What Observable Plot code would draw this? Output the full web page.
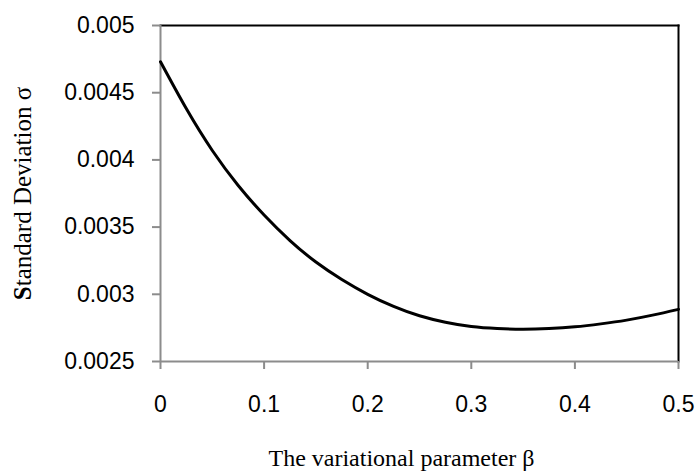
<!DOCTYPE html>
<html>
<head>
<meta charset="utf-8">
<script src="https://cdn.jsdelivr.net/npm/d3@7"></script>
<script src="https://cdn.jsdelivr.net/npm/@observablehq/plot@0.6"></script>
<style>
  html, body { margin: 0; padding: 0; background: #fff; }
  #chart svg { display: block; }
</style>
</head>
<body>
<div id="chart"></div>
<script>
// Variational parameter β
const beta = [0, 0.025, 0.05, 0.075, 0.1, 0.125, 0.15, 0.175, 0.2, 0.225, 0.25,
              0.275, 0.3, 0.325, 0.35, 0.375, 0.4, 0.425, 0.45, 0.475, 0.5];
// Standard deviation σ
const sigma = [0.00473, 0.00438, 0.00407, 0.00381, 0.00359, 0.00340, 0.00324, 0.00311,
               0.00300, 0.00291, 0.00284, 0.002792, 0.00276, 0.002745, 0.00274, 0.002745,
               0.002758, 0.00278, 0.002808, 0.002845, 0.002888];
const xTicks = [0, 0.1, 0.2, 0.3, 0.4, 0.5];
const yTicks = [0.0025, 0.003, 0.0035, 0.004, 0.0045, 0.005];
const xTitle = "The variational parameter β";
const yTitle = "Standard Deviation σ";

const data = beta.map((b, i) => ({beta: b, sigma: sigma[i]}));
const fmt = d => String(+d.toFixed(4));
const gray = "#8c8c8c";

const chart = Plot.plot({
  width: 697,
  height: 474,
  marginLeft: 160,
  marginRight: 19,
  marginTop: 25,
  marginBottom: 113,
  style: {fontFamily: "'Liberation Sans', Arial, sans-serif", color: "#000", background: "#fff"},
  x: {domain: [0, 0.5]},
  y: {domain: [0.0025, 0.005]},
  marks: [
    Plot.frame({anchor: "top", stroke: "#000", strokeWidth: 2}),
    Plot.frame({anchor: "right", stroke: "#000", strokeWidth: 2}),
    Plot.axisY({ticks: yTicks, tickFormat: fmt, tickSize: 8, tickPadding: 18, fontSize: 23,
      stroke: gray, strokeWidth: 2, strokeOpacity: 1, fill: "#000",
      label: yTitle, labelAnchor: "center", labelArrow: "none", labelOffset: 147}),
    Plot.axisX({ticks: xTicks, tickFormat: fmt, tickSize: 8, tickPadding: 26, fontSize: 23,
      stroke: gray, strokeWidth: 2, strokeOpacity: 1, fill: "#000",
      label: xTitle, labelAnchor: "center", labelArrow: "none", labelOffset: 104}),
    Plot.ruleX([0], {stroke: gray, strokeWidth: 2}),
    Plot.ruleY([0.0025], {stroke: gray, strokeWidth: 2}),
    Plot.line(data, {x: "beta", y: "sigma", curve: "natural", stroke: "#000", strokeWidth: 3})
  ]
});

// Titles: serif font; first letter of y title in bold
const svg = d3.select(chart);
svg.selectAll("g[aria-label='x-axis label'] text")
  .style("font-family", "'Liberation Serif', 'Times New Roman', serif")
  .style("font-size", "24px")
  .attr("dx", -18);
const yl = svg.select("g[aria-label='y-axis label'] text")
  .style("font-family", "'Liberation Serif', 'Times New Roman', serif")
  .style("font-size", "25px");
if (!yl.empty()) {
  const t = yl.text();
  yl.text(null);
  yl.append("tspan").attr("font-weight", "bold").text(t.slice(0, 1));
  yl.append("tspan").text(t.slice(1));
}
document.getElementById("chart").appendChild(chart);
</script>
</body>
</html>
